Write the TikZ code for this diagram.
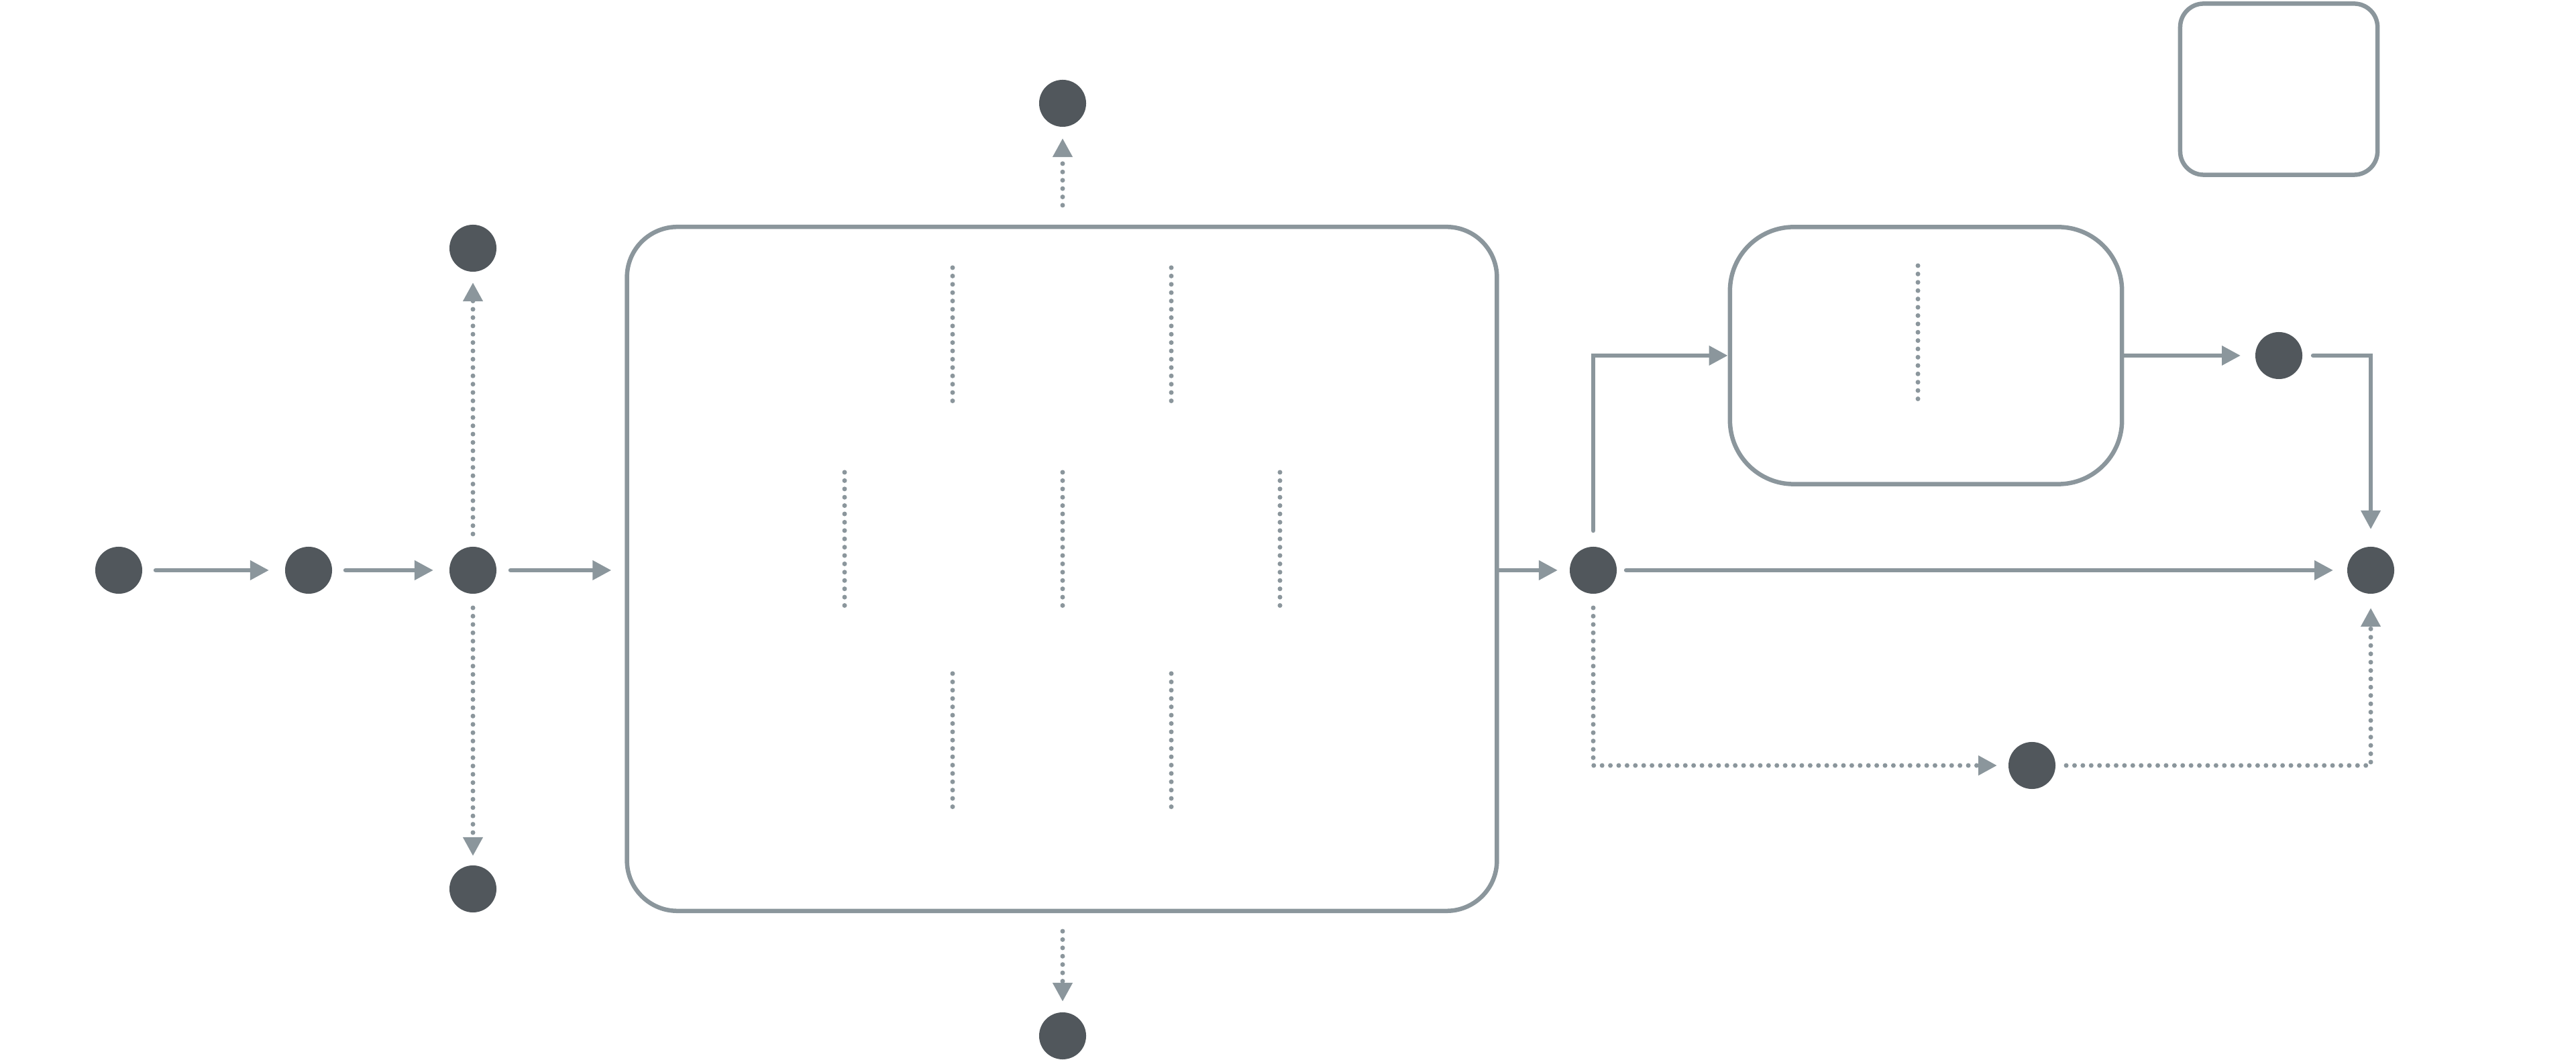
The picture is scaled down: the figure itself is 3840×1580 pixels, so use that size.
\documentclass[tikz,border=0pt]{standalone}
\usetikzlibrary{arrows.meta}
\definecolor{dotc}{RGB}{81,87,92}
\definecolor{linec}{RGB}{139,150,156}
\begin{document}
\begin{tikzpicture}[x=0.01cm,y=-0.01cm,
  pt/.style={circle,fill=dotc,minimum size=0.7cm,inner sep=0pt,outer sep=0pt},
  rbox/.style={draw=linec,line width=0.065cm,rectangle,inner sep=0pt},
  tip/.style={-{Triangle[length=0.28cm,width=0.28cm]}},
  arr/.style={draw=linec,line width=0.065cm,line cap=round,tip},
  dotarr/.style={draw=linec,line width=0.07cm,line cap=round,dash pattern=on 0pt off 0.124cm,tip},
  dotl/.style={draw=linec,line width=0.07cm,line cap=round,dash pattern=on 0pt off 0.124cm}]
\useasboundingbox (0,0) rectangle (3840,1580);
% nodes
\node[pt] (n1) at (177,850) {};
\node[pt] (n2) at (460,850) {};
\node[pt] (n3) at (705,850) {};
\node[pt] (n3u) at (705,370) {};
\node[pt] (n3d) at (705,1325) {};
\node[pt] (top) at (1584,154) {};
\node[pt] (bot) at (1584,1544) {};
\node[pt] (n4) at (2375,850) {};
\node[pt] (n5) at (3397,530) {};
\node[pt] (n6) at (3534,850) {};
\node[pt] (n7) at (3029,1141) {};
\node[rbox,rounded corners=0.75cm,minimum width=12.96cm,minimum height=10.19cm] (big) at (1583,848) {};
\node[rbox,rounded corners=0.95cm,minimum width=5.84cm,minimum height=3.83cm] (b2) at (2871,530) {};
\node[rbox,rounded corners=0.35cm,minimum width=2.94cm,minimum height=2.55cm] (b3) at (3397,133) {};
% dotted segments in boxes
\draw[dotl] (1420,399) -- (1420,605);
\draw[dotl] (1746,399) -- (1746,605);
\draw[dotl] (1259,704) -- (1259,906);
\draw[dotl] (1584,704) -- (1584,906);
\draw[dotl] (1908,704) -- (1908,906);
\draw[dotl] (1420,1004) -- (1420,1206);
\draw[dotl] (1746,1004) -- (1746,1206);
\draw[dotl] (2859,396) -- (2859,598);
% solid connectors
\draw[arr,shorten <=0.2cm,shorten >=0.24cm] (n1) -- (n2);
\draw[arr,shorten <=0.2cm,shorten >=0.24cm] (n2) -- (n3);
\draw[arr,shorten <=0.21cm,shorten >=0.2cm] (n3) -- (n3 -| big.west);
\draw[arr,shorten >=0.18cm] (n4 -| big.east) -- (n4);
\draw[arr,shorten <=0.14cm,shorten >=0.21cm] (n4) -- (n6);
\draw[arr,shorten <=0.24cm] (n4) |- (b2);
\draw[arr,shorten >=0.22cm] (b2) -- (n5);
\draw[arr,shorten <=0.16cm,shorten >=0.26cm] (n5) -| (n6);
% dotted connectors
\draw[dotarr,shorten <=0.19cm,shorten >=0.16cm] (n3) -- (n3u);
\draw[dotarr,shorten <=0.21cm,shorten >=0.14cm] (n3) -- (n3d);
\draw[dotarr,shorten <=0.29cm,shorten >=0.17cm] (top |- big.north) -- (top);
\draw[dotarr,shorten <=0.27cm,shorten >=0.16cm] (bot |- big.south) -- (bot);
\draw[dotarr,shorten <=0.21cm,shorten >=0.17cm] (n4) |- (n7);
\draw[dotarr,shorten <=0.16cm,shorten >=0.21cm] (n7) -| (n6);
\end{tikzpicture}
\end{document}
